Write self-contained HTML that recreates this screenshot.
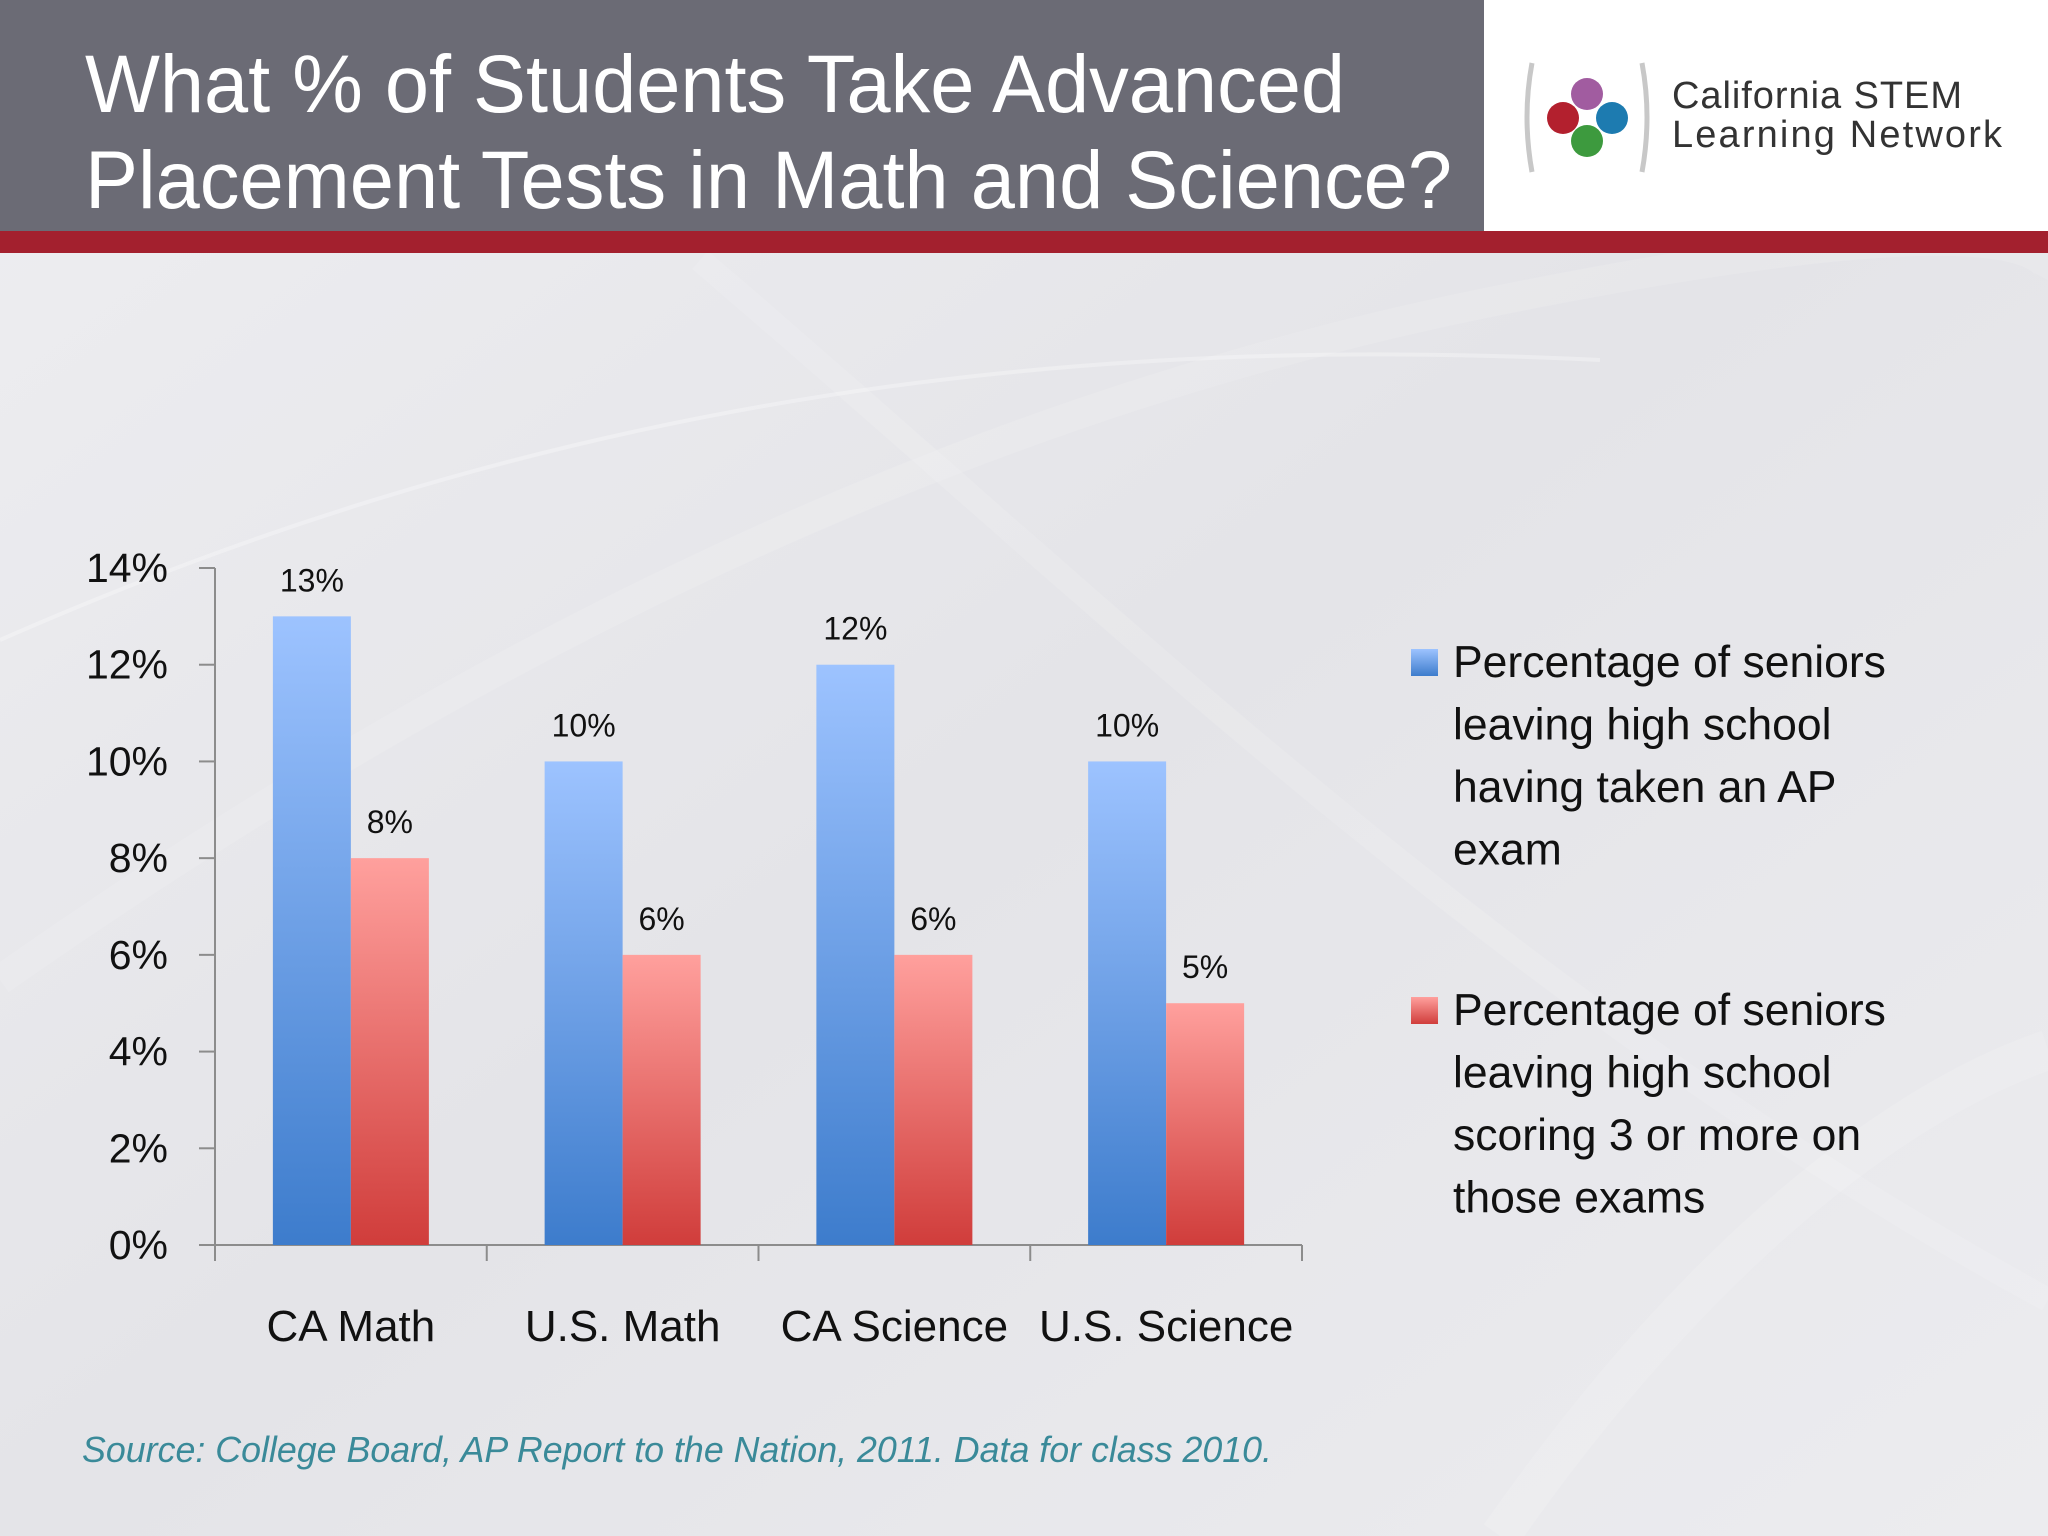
<!DOCTYPE html>
<html><head><meta charset="utf-8"><style>
html,body{margin:0;padding:0;width:2048px;height:1536px;overflow:hidden;}
svg{display:block;}
</style></head><body>
<svg id="chart" width="2048" height="1536" viewBox="0 0 2048 1536" xmlns="http://www.w3.org/2000/svg">
<defs>
<linearGradient id="bg" x1="0" y1="0" x2="1" y2="1">
<stop offset="0" stop-color="#eeeef1"/><stop offset="0.5" stop-color="#e4e4e8"/><stop offset="1" stop-color="#ececef"/>
</linearGradient>
<linearGradient id="gBlue" x1="0" y1="0" x2="0" y2="1">
<stop offset="0" stop-color="#9dc3ff"/><stop offset="1" stop-color="#3d7ccc"/>
</linearGradient>
<linearGradient id="gRed" x1="0" y1="0" x2="0" y2="1">
<stop offset="0" stop-color="#ffa09d"/><stop offset="1" stop-color="#d03d3b"/>
</linearGradient>
</defs>
<rect x="0" y="0" width="2048" height="1536" fill="url(#bg)"/>
<g fill="none" stroke="#ffffff">
<path d="M0 980 C400 700 900 420 1500 300 S2048 280 2048 280" stroke-width="30" stroke-opacity="0.12"/>
<path d="M0 640 C500 420 1000 330 1600 360" stroke-width="4" stroke-opacity="0.3"/>
<path d="M700 260 C1100 600 1500 1000 2048 1300" stroke-width="24" stroke-opacity="0.12"/>
<path d="M1500 1536 C1700 1250 1900 1100 2048 1050" stroke-width="40" stroke-opacity="0.15"/>
</g>
<rect x="0" y="0" width="1484" height="231" fill="#6b6b75"/>
<rect x="1484" y="0" width="564" height="231" fill="#ffffff"/>
<rect x="0" y="231" width="2048" height="22" fill="#a3202e"/>
<text x="85" y="112" font-family="Liberation Sans, sans-serif" font-size="82" fill="#ffffff" textLength="1260" lengthAdjust="spacingAndGlyphs">What % of Students Take Advanced</text>
<text x="85" y="208" font-family="Liberation Sans, sans-serif" font-size="82" fill="#ffffff" textLength="1367" lengthAdjust="spacingAndGlyphs">Placement Tests in Math and Science?</text>
<g>
<path d="M1532 63 Q1522 117 1532 172" stroke="#c8c8c8" stroke-width="5" fill="none"/>
<path d="M1642 63 Q1652 117 1642 172" stroke="#c8c8c8" stroke-width="5" fill="none"/>
<circle cx="1587" cy="94" r="16" fill="#a15ca0"/>
<circle cx="1563" cy="118" r="16" fill="#b3202e"/>
<circle cx="1612" cy="118" r="16" fill="#1d7bb0"/>
<circle cx="1587" cy="141" r="16" fill="#3d9a3e"/>
<text x="1672" y="108" font-family="Liberation Sans, sans-serif" font-size="38" fill="#333" textLength="290" lengthAdjust="spacing">California STEM</text>
<text x="1672" y="147" font-family="Liberation Sans, sans-serif" font-size="38" fill="#333" textLength="330" lengthAdjust="spacing">Learning Network</text>
</g>
<g id="plot"></g>
<text x="82" y="1462" font-family="Liberation Sans, sans-serif" font-style="italic" font-size="36" fill="#3a8a99" textLength="1190" lengthAdjust="spacingAndGlyphs">Source: College Board, AP Report to the Nation, 2011. Data for class 2010.</text>
</svg>
<script>
const categories = ["CA Math", "U.S. Math", "CA Science", "U.S. Science"];
const takenValues = [13, 10, 12, 10];
const scoredValues = [8, 6, 6, 5];
const yTicks = [0, 2, 4, 6, 8, 10, 12, 14];
const legendTaken = ["Percentage of seniors", "leaving high school", "having taken an AP", "exam"];
const legendScored = ["Percentage of seniors", "leaving high school", "scoring 3 or more on", "those exams"];

const NS = "http://www.w3.org/2000/svg";
const g = document.getElementById('plot');
const x0 = 215, x1 = 1302, yTop = 568, yBot = 1245, yMax = 14;
const catW = (x1 - x0) / categories.length;
const barW = 78;
function yScale(v){ return yBot - (v / yMax) * (yBot - yTop); }
function xCat(i){ return x0 + i * catW; }
function mk(tag, attrs, text){
  const e = document.createElementNS(NS, tag);
  for (const k in attrs) e.setAttribute(k, attrs[k]);
  if (text !== undefined) e.textContent = text;
  g.appendChild(e);
  return e;
}
const font = "Liberation Sans, sans-serif";
let el;
el = mk('line', {x1: x0, y1: yTop, x2: x0, y2: yBot, stroke: '#8c8c8c', 'stroke-width': 2});


el = mk('line', {x1: x0 - 16, y1: yBot, x2: x1, y2: yBot, stroke: '#8c8c8c', 'stroke-width': 2});


yTicks.forEach(t => {
  const y = yScale(t);
  el = mk('line', {x1: x0 - 16, y1: y, x2: x0, y2: y, stroke: '#8c8c8c', 'stroke-width': 2});
  
  
  el = mk('text', {x: 168, y: y + 14, 'text-anchor': 'end', 'font-family': font, 'font-size': 41, fill: '#111'}, t + '%');
  
  
});
for (let i = 0; i <= categories.length; i++) {
  el = mk('line', {x1: xCat(i), y1: yBot, x2: xCat(i), y2: yBot + 16, stroke: '#8c8c8c', 'stroke-width': 2});
  
  
}
categories.forEach((c, i) => {
  const cx = xCat(i) + catW / 2;
  const bx = cx - barW;
  const yb = yScale(takenValues[i]);
  el = mk('rect', {x: bx, y: yb, width: barW, height: yBot - yb, fill: 'url(#gBlue)'});
  
  
  el = mk('text', {x: bx + barW / 2, y: yb - 25, 'text-anchor': 'middle', 'font-family': font, 'font-size': 32, fill: '#111'}, takenValues[i] + '%');
  
  
  const yr = yScale(scoredValues[i]);
  el = mk('rect', {x: cx, y: yr, width: barW, height: yBot - yr, fill: 'url(#gRed)'});
  
  
  el = mk('text', {x: cx + barW / 2, y: yr - 25, 'text-anchor': 'middle', 'font-family': font, 'font-size': 32, fill: '#111'}, scoredValues[i] + '%');
  
  
  el = mk('text', {x: cx, y: 1341, 'text-anchor': 'middle', 'font-family': font, 'font-size': 44, fill: '#111'}, c);
  
  
});
function legend(lines, y0, fill, name){
  el = mk('rect', {x: 1411, y: y0 - 13, width: 27, height: 27, fill: fill});
  
  
  lines.forEach((l, k) => {
    el = mk('text', {x: 1453, y: y0 + 15 + k * 62.5, 'font-family': font, 'font-size': 44.5, fill: '#111'}, l);
    
    
  });
}
legend(legendTaken, 662, 'url(#gBlue)', 'legend-taken');
legend(legendScored, 1010, 'url(#gRed)', 'legend-scored');
</script>
</body></html>
